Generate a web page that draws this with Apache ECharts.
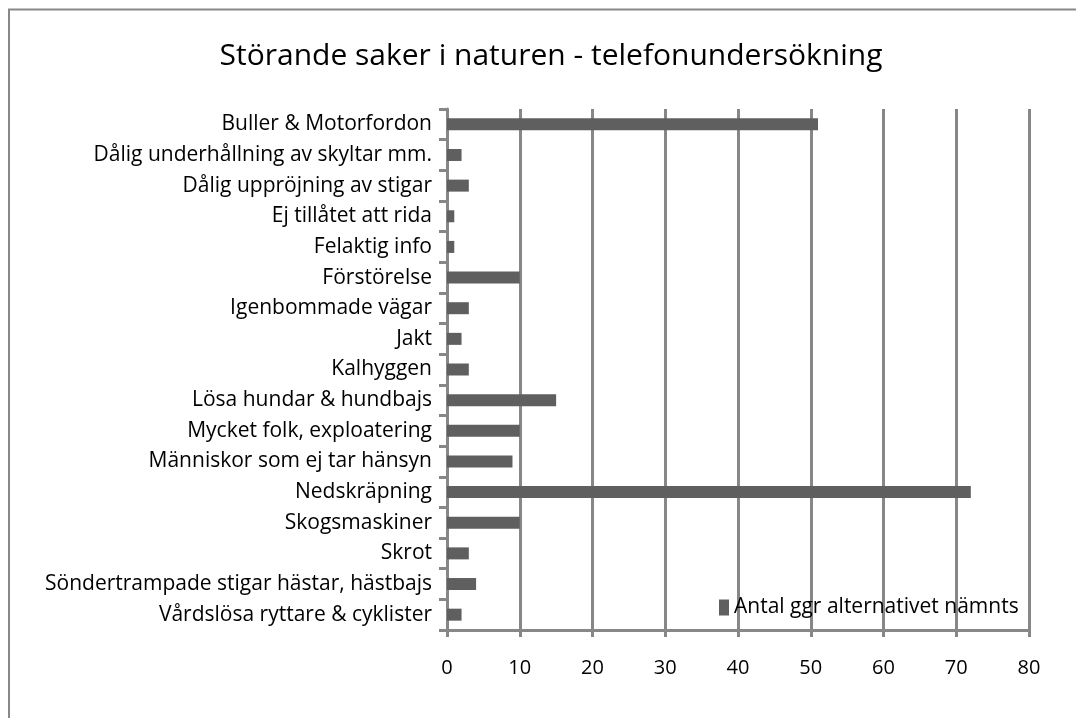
<!DOCTYPE html>
<html>
<head>
<meta charset="utf-8">
<script src="https://cdn.jsdelivr.net/npm/echarts@6/dist/echarts.min.js"></script>
<style>
html, body { margin: 0; padding: 0; background: #fff; }
#main { width: 1076px; height: 718px; }
</style>
</head>
<body>
<div id="main"></div>
<script>
var categories = [
    'Buller & Motorfordon',
    'Dålig underhållning av skyltar mm.',
    'Dålig uppröjning av stigar',
    'Ej tillåtet att rida',
    'Felaktig info',
    'Förstörelse',
    'Igenbommade vägar',
    'Jakt',
    'Kalhyggen',
    'Lösa hundar & hundbajs',
    'Mycket folk, exploatering',
    'Människor som ej tar hänsyn',
    'Nedskräpning',
    'Skogsmaskiner',
    'Skrot',
    'Söndertrampade stigar hästar, hästbajs',
    'Vårdslösa ryttare & cyklister'
];
var counts = [51, 2, 3, 1, 1, 10, 3, 2, 3, 15, 10, 9, 72, 10, 3, 4, 2];
var seriesName = 'Antal ggr alternativet nämnts';
var titleText = 'Störande saker i naturen - telefonundersökning';

var fontFam = '"Open Sans", Lato, sans-serif';
var gridGray = '#878787';

var chart = echarts.init(document.getElementById('main'));
var option = {
    backgroundColor: '#fff',
    animation: false,
    textStyle: { fontFamily: fontFam },
    title: {
        text: titleText,
        left: 546,
        textAlign: 'center',
        top: 36,
        textStyle: { fontSize: 30, fontWeight: 'normal', color: '#000', fontFamily: fontFam }
    },
    graphic: [{
        type: 'rect',
        shape: { x: 9, y: 9.5, width: 1200, height: 800 },
        style: { fill: 'none', stroke: '#888', lineWidth: 2 },
        silent: true
    }],
    legend: {
        left: 714,
        top: 592,
        icon: 'rect',
        itemWidth: 10,
        itemHeight: 16,
        itemGap: 7,
        textStyle: { fontSize: 21, color: '#000', fontFamily: fontFam },
        data: [seriesName]
    },
    grid: {
        left: 447,
        right: 47,
        top: 109,
        bottom: 88,
        containLabel: false
    },
    xAxis: {
        type: 'value',
        min: 0,
        max: 80,
        interval: 10,
        axisLine: { show: true, lineStyle: { color: gridGray, width: 3 } },
        axisTick: { show: true, length: 7, lineStyle: { color: gridGray, width: 3 } },
        axisLabel: { fontSize: 20, color: '#000', margin: 28, fontFamily: fontFam },
        splitLine: { show: true, lineStyle: { color: gridGray, width: 3 } }
    },
    yAxis: {
        type: 'category',
        inverse: true,
        data: categories,
        axisLine: { show: true, lineStyle: { color: gridGray, width: 3 } },
        axisTick: { show: true, length: 8, lineStyle: { color: gridGray, width: 3 } },
        axisLabel: { fontSize: 21, color: '#000', margin: 15, fontFamily: fontFam }
    },
    series: [{
        name: seriesName,
        type: 'bar',
        data: counts,
        barWidth: 12,
        itemStyle: { color: '#5f5f5f' }
    }]
};
chart.setOption(option);
</script>
</body>
</html>
